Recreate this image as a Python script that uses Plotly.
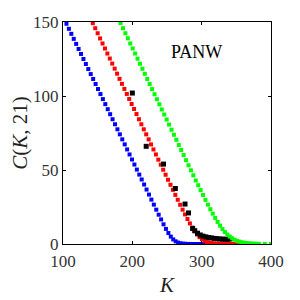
import plotly.graph_objects as go

# ---- data ----
blue_K = [105, 108.5, 112, 115.5, 119, 122.5, 126, 129.5, 133, 136.5, 140, 143.5, 147, 150.5,
          154, 157.5, 161, 164.5, 168, 171.5, 175, 178.5, 182, 185.5, 189, 192.5, 196, 199.5,
          203, 206.5, 210, 213.5, 217, 220.5, 224, 227.5, 231, 234.5, 238, 241.5, 245, 248.5,
          252, 255.5, 259, 262.5, 266, 269.5, 273, 276.5, 280, 283.5, 287, 290.5, 294, 297.5,
          301, 304.5, 308, 311.5, 315, 318.5, 322, 325.5, 329, 332.5, 336, 339.5, 343]
blue_C = [148.8, 145.4, 142.0, 138.6, 135.2, 131.8, 128.4, 125.0, 121.6, 118.2, 114.8, 111.5, 108.1, 104.7,
          101.3, 97.9, 94.5, 91.1, 87.7, 84.3, 80.9, 77.5, 74.1, 70.7, 67.3, 63.9, 60.5, 57.1,
          53.7, 50.3, 46.9, 43.6, 40.2, 36.8, 33.4, 30.0, 26.6, 23.2, 19.8, 16.6, 13.3, 10.2,
          7.4, 5.0, 3.1, 1.8, 0.96, 0.50, 0.25, 0.13, 0.06, 0.03, 0.02, 0.01, 0, 0,
          0, 0, 0, 0, 0, 0, 0, 0, 0, 0, 0, 0, 0]

red_K = [143, 146.5, 150, 153.5, 157, 160.5, 164, 167.5, 171, 174.5, 178, 181.5, 185, 188.5,
         192, 195.5, 199, 202.5, 206, 209.5, 213, 216.5, 220, 223.5, 227, 230.5, 234, 237.5,
         241, 244.5, 248, 251.5, 255, 258.5, 262, 265.5, 269, 272.5, 276, 279.5, 283, 286.5,
         290, 293.5, 297, 300.5, 304, 307.5, 311, 314.5, 318, 321.5, 325, 328.5, 332, 335.5,
         339, 342.5, 346, 349.5, 353, 356.5, 360, 363.5, 367, 370.5]
red_C = [149.2, 145.8, 142.4, 138.9, 135.5, 132.1, 128.7, 125.3, 121.9, 118.5, 115.1, 111.6, 108.2, 104.8,
         101.4, 98.0, 94.6, 91.2, 87.8, 84.3, 80.9, 77.5, 74.1, 70.7, 67.3, 63.9, 60.5, 57.0,
         53.6, 50.2, 46.8, 43.4, 40.0, 36.6, 33.2, 29.9, 26.5, 23.2, 20.0, 16.9, 13.9, 11.1,
         8.6, 6.4, 4.6, 3.2, 2.2, 1.4, 0.93, 0.60, 0.38, 0.24, 0.15, 0.10, 0.06, 0.04,
         0.02, 0.015, 0.01, 0, 0, 0, 0, 0, 0, 0]

green_K = [183, 186.5, 190, 193.5, 197, 200.5, 204, 207.5, 211, 214.5, 218, 221.5, 225, 228.5,
           232, 235.5, 239, 242.5, 246, 249.5, 253, 256.5, 260, 263.5, 267, 270.5, 274, 277.5,
           281, 284.5, 288, 291.5, 295, 298.5, 302, 305.5, 309, 312.5, 316, 319.5, 323, 326.5,
           330, 333.5, 337, 340.5, 344, 347.5, 351, 354.5, 358, 361.5, 365, 368.5, 372, 375.5,
           379, 382.5, 391, 400]
green_C = [149.3, 145.8, 142.4, 139.0, 135.5, 132.1, 128.7, 125.2, 121.8, 118.4, 115.0, 111.5, 108.1, 104.7,
           101.2, 97.8, 94.4, 90.9, 87.5, 84.1, 80.7, 77.2, 73.8, 70.4, 66.9, 63.5, 60.1, 56.6,
           53.2, 49.8, 46.4, 42.9, 39.7, 36.4, 33.1, 29.8, 26.6, 23.5, 20.5, 17.6, 14.9, 12.4,
           10.1, 8.1, 6.4, 5.0, 3.8, 2.9, 2.1, 1.6, 1.15, 0.84, 0.61, 0.44, 0.32, 0.23,
           0.17, 0.12, 0.05, 0.02]

mkt_K = [200, 220, 245, 262, 276, 281, 287, 290, 294, 298, 302, 306, 310, 314, 318, 322,
         326, 330, 334, 338, 341]
mkt_C = [102, 66, 54, 37.5, 27, 21, 10.5, 9.0, 7.3, 6.1, 5.3, 4.8, 4.4, 4.1, 3.8, 3.6,
         3.4, 3.3, 3.2, 3.2, 3.4]

x_ticks = [100, 200, 300, 400]
y_ticks = [0, 50, 100, 150]
label = "PANW"

FONT = "Liberation Serif"

fig = go.Figure()
fig.add_trace(go.Scatter(x=blue_K, y=blue_C, mode="markers",
                         marker=dict(symbol="square", size=4, color="#0000ff", line=dict(width=0))))
fig.add_trace(go.Scatter(x=red_K, y=red_C, mode="markers",
                         marker=dict(symbol="square", size=4, color="#ff0000", line=dict(width=0))))
fig.add_trace(go.Scatter(x=mkt_K, y=mkt_C, mode="markers",
                         marker=dict(symbol="square", size=5, color="#000000", line=dict(width=0))))
fig.add_trace(go.Scatter(x=green_K, y=green_C, mode="markers",
                         marker=dict(symbol="square", size=4, color="#00ff00", line=dict(width=0))))

fig.add_annotation(x=293, y=130, text=label, showarrow=False,
                   font=dict(family=FONT, size=18, color="black"))

axis_common = dict(showgrid=False, zeroline=False, showline=True, linecolor="black",
                   linewidth=1, mirror="ticks", ticks="inside", ticklen=3, tickcolor="black",
                   automargin=False,
                   tickfont=dict(family=FONT, size=17, color="#333"))

fig.update_xaxes(range=[100, 400], tickvals=x_ticks, ticklabelstandoff=2,
                 title=dict(text="<i>K</i>", font=dict(family=FONT, size=21, color="#222"), standoff=6),
                 **axis_common)
fig.update_yaxes(range=[0, 150], tickvals=y_ticks,
                 title=dict(text="<i>C</i>(<i>K</i>, 21)", font=dict(family=FONT, size=21, color="#222"), standoff=6),
                 **axis_common)

# the page adds an 8px body margin, so the margins are reduced by 8px on the left/top
fig.update_layout(width=300, height=300, showlegend=False,
                  margin=dict(l=55, r=37, t=14, b=64),
                  plot_bgcolor="white", paper_bgcolor="white")

fig.write_html("out.html")
